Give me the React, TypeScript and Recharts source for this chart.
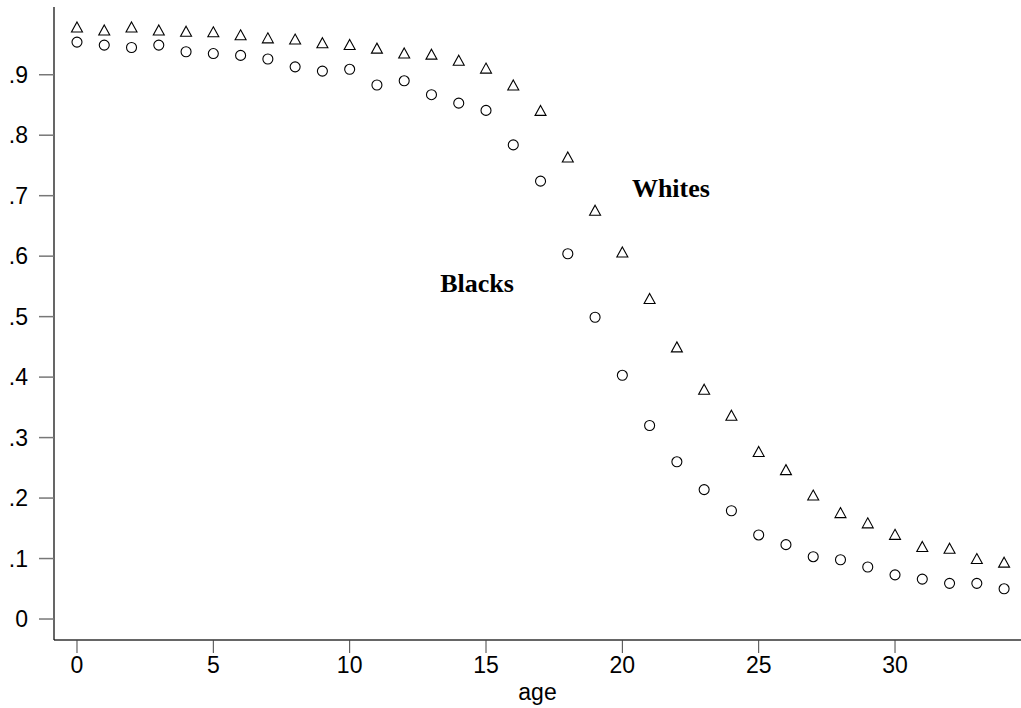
import { ScatterChart, Scatter, XAxis, YAxis, ReferenceDot } from "recharts";

// ages 0..34
const AGES = [
    0, 1, 2, 3, 4, 5, 6, 7, 8, 9, 10, 11, 12, 13, 14, 15, 16, 17, 18, 19, 20,
    21, 22, 23, 24, 25, 26, 27, 28, 29, 30, 31, 32, 33, 34,
];

const WHITES = [
    0.979, 0.974, 0.979, 0.974, 0.972, 0.971, 0.966, 0.961, 0.959, 0.953, 0.95,
    0.944, 0.936, 0.934, 0.924, 0.911, 0.883, 0.841, 0.764, 0.676, 0.607, 0.53,
    0.45, 0.38, 0.337, 0.277, 0.247, 0.205, 0.176, 0.159, 0.14, 0.12, 0.117,
    0.1, 0.094,
];

const BLACKS = [
    0.954, 0.949, 0.945, 0.949, 0.938, 0.935, 0.932, 0.926, 0.913, 0.906, 0.909,
    0.883, 0.89, 0.867, 0.853, 0.841, 0.784, 0.724, 0.604, 0.499, 0.403, 0.32,
    0.26, 0.214, 0.179, 0.139, 0.123, 0.103, 0.098, 0.086, 0.073, 0.066, 0.059,
    0.059, 0.05,
];

const X_TICKS = [0, 5, 10, 15, 20, 25, 30];
const Y_TICKS = [0, 0.1, 0.2, 0.3, 0.4, 0.5, 0.6, 0.7, 0.8, 0.9];

const whiteData = AGES.map((age, i) => ({ age, v: WHITES[i] }));
const blackData = AGES.map((age, i) => ({ age, v: BLACKS[i] }));

const TICK_FONT = {
    fill: "#000",
    fontSize: 23,
    fontFamily: "'Liberation Sans', Arial, sans-serif",
};

const LABEL_STYLE = {
    fontFamily: "'Liberation Serif', 'Times New Roman', serif",
    fontWeight: 700,
    fontSize: 26,
    fill: "#000",
};

const Triangle = (props: any) => {
    const { cx, cy } = props;
    if (cx == null || cy == null) return null;
    const d = `M${cx},${cy - 5} L${cx + 5.5},${cy + 5} L${cx - 5.5},${cy + 5} Z`;
    return <path d={d} fill="none" stroke="#000" strokeWidth={1.1} />;
};

const Circle = (props: any) => {
    const { cx, cy } = props;
    if (cx == null || cy == null) return null;
    return <circle cx={cx} cy={cy} r={5} fill="none" stroke="#000" strokeWidth={1.1} />;
};

const fmtY = (v: number) => (v === 0 ? "0" : "." + Math.round(v * 10));

export default function App() {
    return (
        <div style={{ position: "absolute", left: 0, top: 0, background: "#fff" }}>
            <ScatterChart
                width={1021}
                height={708}
                margin={{ top: 7, right: 0, bottom: 0, left: 0 }}
            >
                <XAxis
                    type="number"
                    dataKey="age"
                    domain={[-0.843, 34.62]}
                    ticks={X_TICKS}
                    allowDataOverflow
                    height={68}
                    tickSize={13}
                    tickMargin={4}
                    tick={TICK_FONT}
                    axisLine={{ stroke: "#666", strokeWidth: 2 }}
                    tickLine={{ stroke: "#444", strokeWidth: 1 }}
                    label={{
                        value: "age",
                        position: "insideBottom",
                        offset: 8,
                        style: TICK_FONT,
                    }}
                />
                <YAxis
                    type="number"
                    dataKey="v"
                    domain={[-0.0347, 1.012]}
                    ticks={Y_TICKS}
                    allowDataOverflow
                    width={54}
                    tickSize={15}
                    tickMargin={11}
                    tick={TICK_FONT}
                    tickFormatter={fmtY}
                    axisLine={{ stroke: "#000", strokeWidth: 1.2 }}
                    tickLine={{ stroke: "#777", strokeWidth: 1.5 }}
                />
                <Scatter
                    name="Whites"
                    data={whiteData}
                    shape={Triangle}
                    isAnimationActive={false}
                />
                <Scatter
                    name="Blacks"
                    data={blackData}
                    shape={Circle}
                    isAnimationActive={false}
                />
                <ReferenceDot
                    x={21.78}
                    y={0.713}
                    r={0}
                    fill="none"
                    stroke="none"
                    label={{ value: "Whites", position: "center", style: LABEL_STYLE }}
                />
                <ReferenceDot
                    x={14.67}
                    y={0.556}
                    r={0}
                    fill="none"
                    stroke="none"
                    label={{ value: "Blacks", position: "center", style: LABEL_STYLE }}
                />
            </ScatterChart>
        </div>
    );
}
